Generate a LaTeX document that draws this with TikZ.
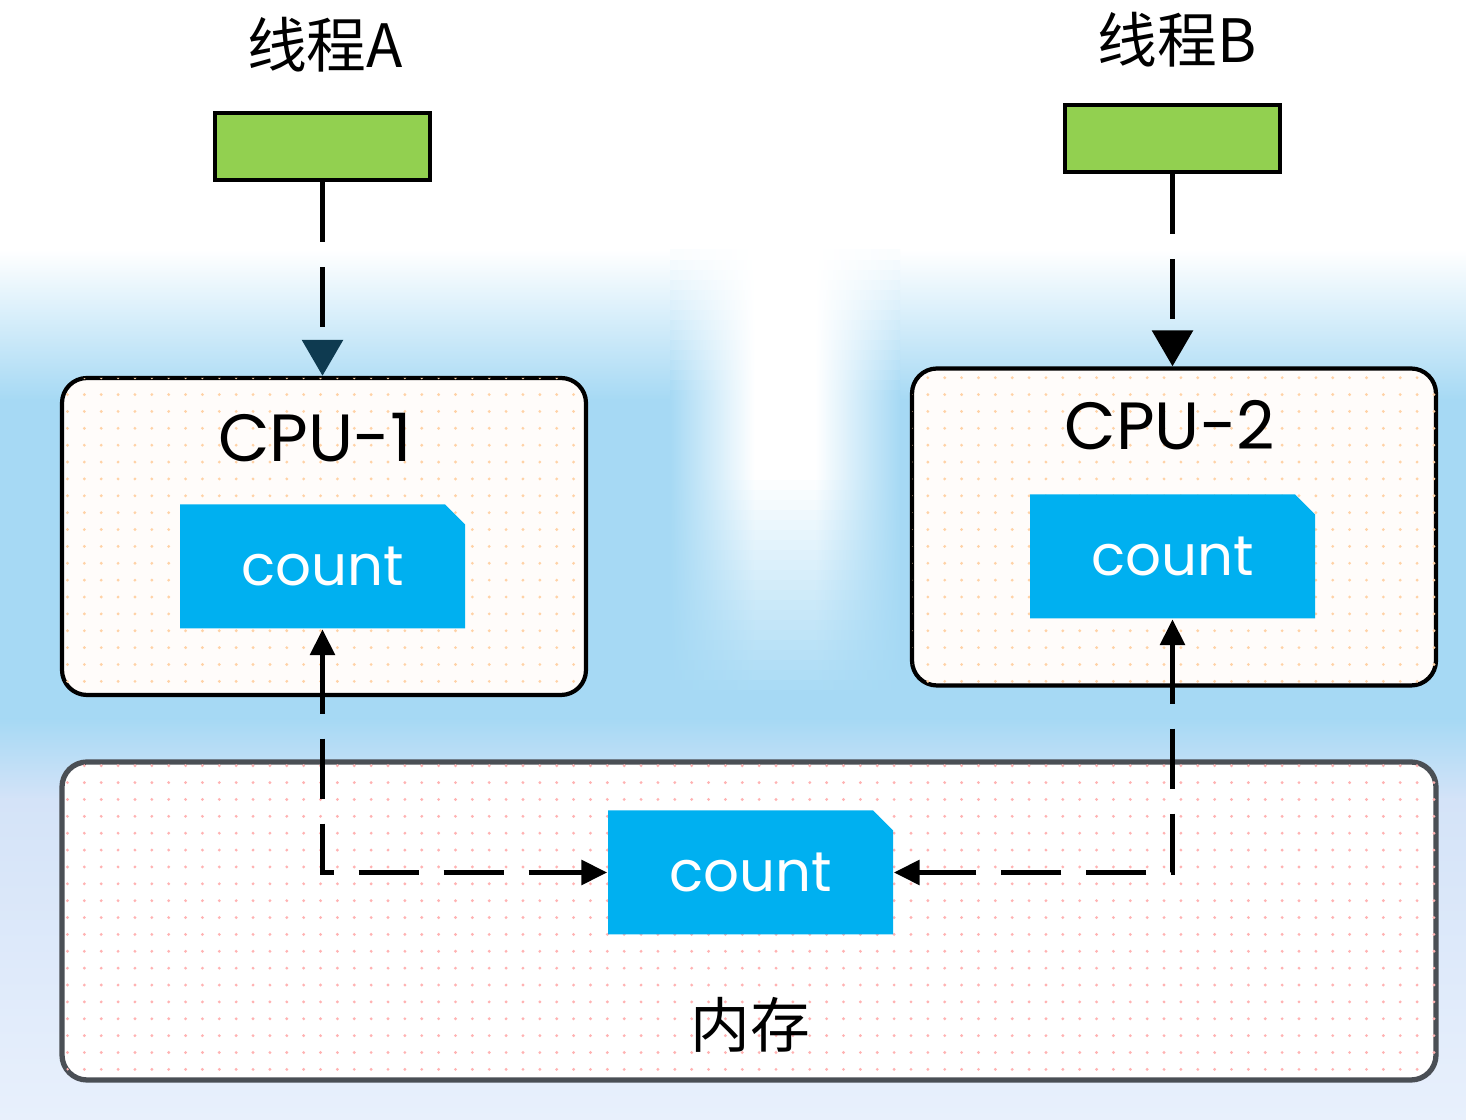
\documentclass[tikz,border=0pt]{standalone}
\usepackage{fontspec}
\setmainfont{Poppins}
\newfontfamily\cjk{Noto Sans CJK SC}
\usetikzlibrary{arrows.meta,shapes.misc,patterns.meta}

\definecolor{glowblue}{HTML}{A6D9F4}
\definecolor{lowblue}{HTML}{D4E3F8}
\definecolor{palebl}{HTML}{E8F0FC}
\definecolor{thrgreen}{HTML}{92D050}
\definecolor{cntblue}{HTML}{00B0F0}
\definecolor{memgray}{HTML}{4A4F55}
\definecolor{tipteal}{HTML}{0E3A50}

\tikzset{
  thread/.style={draw=black, line width=1.4pt, fill=thrgreen,
    minimum width=2.15cm, minimum height=0.67cm},
  cpubox/.style={draw=black, line width=1.2pt, rounded corners=0.25cm,
    fill=orange!2, minimum width=5.24cm, minimum height=3.17cm,
    postaction={pattern={Dots[radius=0.45pt,distance=4.8pt]}, pattern color=orange!35}},
  membox/.style={draw=memgray, line width=1.5pt, rounded corners=0.25cm,
    fill=white, minimum width=13.74cm, minimum height=3.18cm,
    postaction={pattern={Dots[radius=0.45pt,distance=4.8pt]}, pattern color=red!30}},
  cntbox/.style={chamfered rectangle, chamfered rectangle corners=north east,
    chamfered rectangle xsep=0.1cm, chamfered rectangle ysep=0.1cm,
    fill=cntblue, text=white, inner sep=0pt,
    minimum width=2.85cm, minimum height=1.24cm,
    font=\fontsize{16}{16}\selectfont},
  title/.style={font=\cjk\fontsize{17}{17}\selectfont},
  cpulabel/.style={font=\fontsize{19}{19}\selectfont},
  link/.style={line width=1.7pt, dash pattern=on 0.6cm off 0.25cm},
  feed/.style={line width=1.7pt, dash pattern=on 0.6cm off 0.25cm},
}

\begin{document}
\begin{tikzpicture}[>={Triangle[width=0.24cm,length=0.26cm]}]
\useasboundingbox (0,0) rectangle (14.66,11.2);

% glow behind the boxes
\shade[top color=white, bottom color=glowblue] (0,7.2) rectangle (14.66,8.7);
\fill[glowblue] (0,4.0) rectangle (14.66,7.21);
\shade[top color=glowblue, bottom color=lowblue] (0,3.2) rectangle (14.66,4.01);
\shade[top color=lowblue, bottom color=palebl] (0,0) rectangle (14.66,3.21);
% light gap between the two cpus
\foreach \i in {0,...,44} {
  \pgfmathsetmacro\yy{4.2+0.1*\i}
  \pgfmathtruncatemacro\bg{\yy<7.2 ? 100 : 100*(8.7-\yy)/1.5}
  \pgfmathtruncatemacro\mid{\bg*(1-min(1,(\yy-4.2)/2.2))}
  \colorlet{gapedge}{glowblue!\bg!white}
  \colorlet{gapmid}{glowblue!\mid!white}
  \shade[left color=gapedge, right color=gapmid] (6.7,\yy) rectangle (7.55,\yy+0.101);
  \fill[gapmid] (7.549,\yy) rectangle (8.151,\yy+0.101);
  \shade[left color=gapmid, right color=gapedge] (8.15,\yy) rectangle (9.0,\yy+0.101);
}

% threads
\node[title] (ta) at (3.25,10.75) {线程A};
\node[title] (tb) at (11.77,10.80) {线程B};
\node[thread] (ga) at (3.225,9.735) {};
\node[thread] (gb) at (11.725,9.815) {};

% cpus
\node[cpubox] (cpu1) at (3.24,5.835) {};
\node[cpubox] (cpu2) at (11.74,5.93) {};
\node[cpulabel] (l1) at (3.15,6.82) {CPU-1};
\node[cpulabel] (l2) at (11.70,6.95) {CPU-2};
\node[cntbox] (c1) at (3.225,5.535) {count};
\node[cntbox] (c2) at (11.725,5.635) {count};

% memory
\node[membox] (mem) at (7.49,1.99) {};
\node[cntbox] (cm) at (7.505,2.475) {count};
\node[title] (ml) at (7.50,0.95) {内存};

% arrows
\draw[feed, -{Triangle[width=0.4cm,length=0.36cm,color=tipteal]}] (ga.south) -- (ga.south |- cpu1.north);
\draw[feed, -{Triangle[width=0.4cm,length=0.36cm]}] (gb.south) -- (gb.south |- cpu2.north);
\draw[link, <->] (c1.south) |- (cm.west);
\draw[link, <->] (c2.south) |- (cm.east);

\end{tikzpicture}
\end{document}
